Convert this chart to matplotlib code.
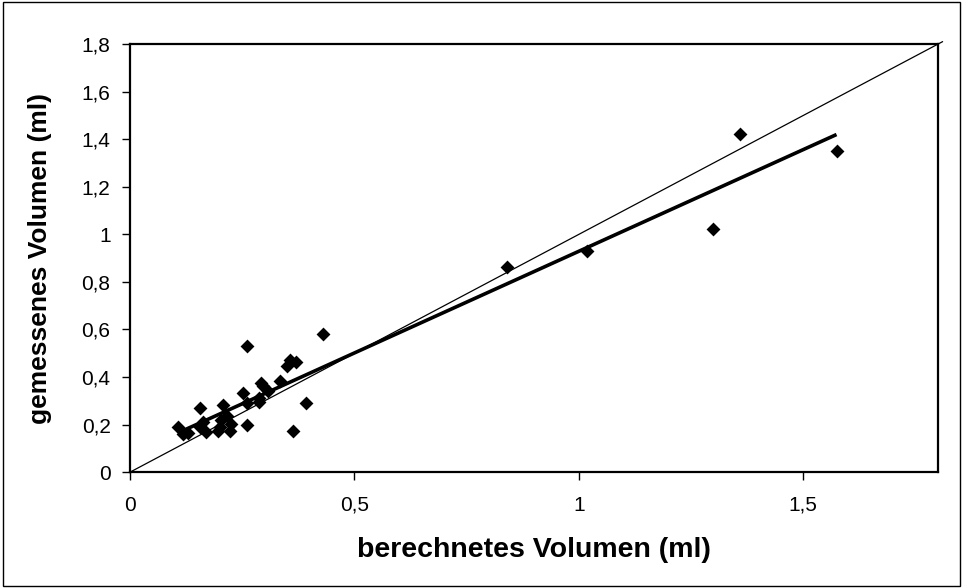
import numpy as np
import matplotlib.pyplot as plt
from matplotlib.ticker import FuncFormatter

# berechnetes vs. gemessenes Volumen (ml)
berechnet = [0.107, 0.118, 0.130, 0.155, 0.157, 0.162, 0.170, 0.197, 0.200, 0.203,
             0.207, 0.216, 0.223, 0.226, 0.252, 0.260, 0.260, 0.261, 0.287, 0.287,
             0.292, 0.296, 0.308, 0.334, 0.350, 0.356, 0.369, 0.364, 0.393, 0.431,
             0.839, 1.017, 1.298, 1.359, 1.574]
gemessen = [0.192, 0.160, 0.166, 0.271, 0.188, 0.211, 0.170, 0.172, 0.188, 0.219,
            0.282, 0.238, 0.172, 0.204, 0.333, 0.290, 0.200, 0.530, 0.311, 0.295,
            0.377, 0.361, 0.342, 0.382, 0.446, 0.472, 0.462, 0.172, 0.290, 0.582,
            0.861, 0.929, 1.021, 1.421, 1.350]
x_ticks = [0, 0.5, 1, 1.5]
y_ticks = [0, 0.2, 0.4, 0.6, 0.8, 1.0, 1.2, 1.4, 1.6, 1.8]

plt.rcParams['font.family'] = ['Liberation Sans', 'DejaVu Sans']

fig = plt.figure(figsize=(9.63, 5.88), dpi=100)
ax = fig.add_axes([0.135, 0.197, 0.839, 0.728])

x = np.array(berechnet)
y = np.array(gemessen)

# Winkelhalbierende
ax.plot([0, 1.81], [0, 1.81], color='black', lw=0.9, clip_on=False)

# lineare Trendlinie
m, b = np.polyfit(x, y, 1)
xl = np.array([x.min(), x.max()])
ax.plot(xl, m * xl + b, color='black', lw=2.6, solid_capstyle='butt')

ax.scatter(x, y, marker='D', s=50, color='black', zorder=3, linewidths=0)

ax.set_xlim(0, 1.8)
ax.set_ylim(0, 1.8)
ax.set_xticks(x_ticks)
ax.set_yticks(y_ticks)
fmt = FuncFormatter(lambda v, p: ('%g' % round(v, 2)).replace('.', ','))
ax.xaxis.set_major_formatter(fmt)
ax.yaxis.set_major_formatter(fmt)
ax.tick_params(direction='out', length=6, width=1, labelsize=15, colors='black')
ax.tick_params(axis='x', pad=11)
ax.tick_params(axis='y', pad=8)
for s in ax.spines.values():
    s.set_linewidth(1.6)

ax.set_xlabel('berechnetes Volumen (ml)', fontsize=20.5, fontweight='bold')
ax.set_ylabel('gemessenes Volumen (ml)', fontsize=19, fontweight='bold')
ax.xaxis.set_label_coords(0.5, -0.152)
ax.yaxis.set_label_coords(-0.097, 0.5)

fig.patches.append(plt.Rectangle((0.003, 0.003), 0.994, 0.994, transform=fig.transFigure,
                                 fill=False, edgecolor='black', lw=1))

fig.savefig('out.png', dpi=100)
